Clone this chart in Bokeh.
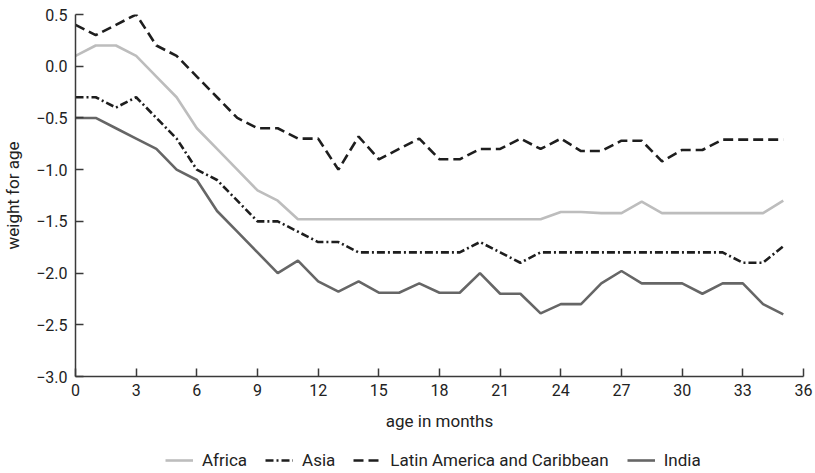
from bokeh.plotting import figure
from bokeh.layouts import column
from bokeh.models import Legend, LegendItem, FixedTicker, CustomJSTickFormatter, Range1d
from bokeh.embed import file_html
from bokeh.resources import INLINE

months = list(range(36))
africa = [0.1, 0.2, 0.2, 0.1, -0.1, -0.3, -0.6, -0.8, -1.0, -1.2, -1.3, -1.48,
          -1.48, -1.48, -1.48, -1.48, -1.48, -1.48, -1.48, -1.48, -1.48, -1.48, -1.48, -1.48,
          -1.41, -1.41, -1.42, -1.42, -1.31, -1.42, -1.42, -1.42, -1.42, -1.42, -1.42, -1.3]
asia = [-0.3, -0.3, -0.4, -0.3, -0.5, -0.7, -1.0, -1.1, -1.3, -1.5, -1.5, -1.6,
        -1.7, -1.7, -1.8, -1.8, -1.8, -1.8, -1.8, -1.8, -1.7, -1.8, -1.9, -1.8,
        -1.8, -1.8, -1.8, -1.8, -1.8, -1.8, -1.8, -1.8, -1.8, -1.9, -1.9, -1.74]
latam = [0.4, 0.3, 0.4, 0.5, 0.2, 0.1, -0.1, -0.3, -0.5, -0.6, -0.6, -0.7,
         -0.7, -1.0, -0.68, -0.9, -0.8, -0.7, -0.9, -0.9, -0.8, -0.8, -0.7, -0.8,
         -0.7, -0.82, -0.82, -0.72, -0.72, -0.92, -0.81, -0.81, -0.71, -0.71, -0.71, -0.71]
india = [-0.5, -0.5, -0.6, -0.7, -0.8, -1.0, -1.1, -1.4, -1.6, -1.8, -2.0, -1.88,
         -2.08, -2.18, -2.08, -2.19, -2.19, -2.1, -2.19, -2.19, -2.0, -2.2, -2.2, -2.39,
         -2.3, -2.3, -2.1, -1.98, -2.1, -2.1, -2.1, -2.2, -2.1, -2.1, -2.3, -2.4]

series_names = ["Africa", "Asia", "Latin America and Caribbean", "India"]
x_ticks = list(range(0, 37, 3))
y_ticks = [-3.0, -2.5, -2.0, -1.5, -1.0, -0.5, 0.0, 0.5]

FONT = "Roboto"
AXIS_COLOR = "#3a3a3a"
TEXT_COLOR = "#222222"
styles = [
    dict(line_color="#bdbdbd", line_width=2.6),
    dict(line_color="#1e1e1e", line_width=2.6, line_dash="8 3 2 3"),
    dict(line_color="#1e1e1e", line_width=2.6, line_dash="10 5"),
    dict(line_color="#666666", line_width=2.6),
]
all_series = [africa, asia, latam, india]

p = figure(output_backend="svg", toolbar_location=None,
           frame_width=728, frame_height=362,
           x_range=Range1d(0, 36), y_range=Range1d(-3.0, 0.5),
           min_border_left=73, min_border_right=10, min_border_top=14, min_border_bottom=60)
p.outline_line_color = None
p.xgrid.grid_line_color = None
p.ygrid.grid_line_color = None
p.background_fill_color = "white"
p.border_fill_color = "white"

for ys, st in zip(all_series, styles):
    p.line(months, ys, **st)

for ax in (p.xaxis[0], p.yaxis[0]):
    ax.axis_line_color = AXIS_COLOR
    ax.axis_line_width = 1.5
    ax.major_tick_line_color = AXIS_COLOR
    ax.major_tick_line_width = 1.5
    ax.major_tick_in = 8
    ax.major_tick_out = 0
    ax.minor_tick_line_color = None
    ax.major_label_text_font = FONT
    ax.major_label_text_font_size = "16px"
    ax.major_label_text_color = TEXT_COLOR
    ax.axis_label_text_font = FONT
    ax.axis_label_text_font_size = "17px"
    ax.axis_label_text_font_style = "normal"
    ax.axis_label_text_color = TEXT_COLOR

p.xaxis.ticker = FixedTicker(ticks=x_ticks)
p.yaxis.ticker = FixedTicker(ticks=y_ticks)
p.yaxis.formatter = CustomJSTickFormatter(code="return tick.toFixed(1).replace('-', '\u2212');")
p.xaxis.axis_label = "age in months"
p.yaxis.axis_label = "weight for age"
p.xaxis.major_label_standoff = 7
p.yaxis.major_label_standoff = 8
p.xaxis.axis_label_standoff = 12
p.yaxis.axis_label_standoff = 10

# legend strip below the chart (its lines lie outside its own ranges, only the legend shows)
lg = figure(output_backend="svg", toolbar_location=None,
            width=811, height=35, x_axis_type=None, y_axis_type=None,
            x_range=Range1d(0, 1), y_range=Range1d(10, 11),
            min_border_left=0, min_border_right=0, min_border_top=0, min_border_bottom=0)
lg.outline_line_color = None
lg.background_fill_color = "white"
lg.border_fill_color = "white"
items = []
for name, ys, st in zip(series_names, all_series, styles):
    r = lg.line(months, ys, **st)
    items.append(LegendItem(label=name, renderers=[r]))

legend = Legend(items=items, orientation="horizontal", location=(90, 1))
legend.border_line_color = None
legend.background_fill_alpha = 0
legend.label_text_font = FONT
legend.label_text_font_size = "17px"
legend.label_text_color = TEXT_COLOR
legend.glyph_width = 28
legend.glyph_height = 18
legend.label_height = 18
legend.label_standoff = 9
legend.spacing = 18
legend.padding = 2
legend.margin = 0
lg.add_layout(legend, "center")

layout = column(p, lg, spacing=0)
open("out.html", "w").write(file_html(layout, INLINE))
